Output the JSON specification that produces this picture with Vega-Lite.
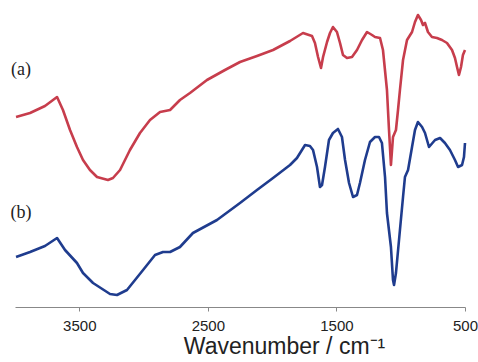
{
  "$schema": "https://vega.github.io/schema/vega-lite/v6.json",
  "autosize": {"type": "none"},
  "padding": {"left": 15, "top": 0, "right": 13, "bottom": 55},
  "width": 450,
  "height": 307,
  "background": "white",
  "config": {"view": {"stroke": null}},
  "datasets": {
    "spectra": [
      {"s":"a","wn":3992,"t":190},{"s":"a","wn":3883,"t":194},{"s":"a","wn":3767,"t":201},{"s":"a","wn":3673,"t":210},
      {"s":"a","wn":3627,"t":197},{"s":"a","wn":3572,"t":177},{"s":"a","wn":3518,"t":160},{"s":"a","wn":3471,"t":147},
      {"s":"a","wn":3417,"t":137},{"s":"a","wn":3362,"t":130},{"s":"a","wn":3277,"t":127},{"s":"a","wn":3238,"t":129},
      {"s":"a","wn":3183,"t":137},{"s":"a","wn":3106,"t":157},{"s":"a","wn":3028,"t":174},{"s":"a","wn":2950,"t":187},
      {"s":"a","wn":2872,"t":195},{"s":"a","wn":2794,"t":197},{"s":"a","wn":2717,"t":207},{"s":"a","wn":2639,"t":214},
      {"s":"a","wn":2507,"t":227},{"s":"a","wn":2367,"t":237},{"s":"a","wn":2250,"t":245},{"s":"a","wn":2118,"t":251},
      {"s":"a","wn":1993,"t":257},{"s":"a","wn":1861,"t":266},{"s":"a","wn":1760,"t":274},{"s":"a","wn":1690,"t":271},
      {"s":"a","wn":1667,"t":264},{"s":"a","wn":1643,"t":250},{"s":"a","wn":1620,"t":239},{"s":"a","wn":1604,"t":250},
      {"s":"a","wn":1573,"t":265},{"s":"a","wn":1550,"t":274},{"s":"a","wn":1527,"t":280},{"s":"a","wn":1496,"t":275},
      {"s":"a","wn":1472,"t":264},{"s":"a","wn":1449,"t":252},{"s":"a","wn":1418,"t":249},{"s":"a","wn":1379,"t":250},
      {"s":"a","wn":1340,"t":257},{"s":"a","wn":1301,"t":267},{"s":"a","wn":1262,"t":275},{"s":"a","wn":1223,"t":272},
      {"s":"a","wn":1200,"t":270},{"s":"a","wn":1161,"t":269},{"s":"a","wn":1138,"t":257},{"s":"a","wn":1107,"t":217},
      {"s":"a","wn":1091,"t":177},{"s":"a","wn":1076,"t":142},{"s":"a","wn":1060,"t":170},{"s":"a","wn":1037,"t":177},
      {"s":"a","wn":1021,"t":197},{"s":"a","wn":1006,"t":217},{"s":"a","wn":982,"t":247},{"s":"a","wn":951,"t":267},
      {"s":"a","wn":912,"t":275},{"s":"a","wn":889,"t":285},{"s":"a","wn":866,"t":292},{"s":"a","wn":842,"t":287},
      {"s":"a","wn":827,"t":282},{"s":"a","wn":811,"t":284},{"s":"a","wn":788,"t":275},{"s":"a","wn":757,"t":270},
      {"s":"a","wn":718,"t":269},{"s":"a","wn":679,"t":267},{"s":"a","wn":640,"t":264},{"s":"a","wn":601,"t":257},
      {"s":"a","wn":578,"t":249},{"s":"a","wn":562,"t":240},{"s":"a","wn":547,"t":232},{"s":"a","wn":531,"t":240},
      {"s":"a","wn":516,"t":252},{"s":"a","wn":500,"t":257},
      {"s":"b","wn":3992,"t":50},{"s":"b","wn":3883,"t":55},{"s":"b","wn":3767,"t":61},{"s":"b","wn":3673,"t":69},
      {"s":"b","wn":3611,"t":57},{"s":"b","wn":3518,"t":44},{"s":"b","wn":3471,"t":34},{"s":"b","wn":3393,"t":24},
      {"s":"b","wn":3261,"t":13},{"s":"b","wn":3207,"t":12},{"s":"b","wn":3129,"t":17},{"s":"b","wn":3004,"t":37},
      {"s":"b","wn":2911,"t":52},{"s":"b","wn":2849,"t":55},{"s":"b","wn":2794,"t":55},{"s":"b","wn":2717,"t":60},
      {"s":"b","wn":2616,"t":74},{"s":"b","wn":2429,"t":87},{"s":"b","wn":2250,"t":104},{"s":"b","wn":2118,"t":117},
      {"s":"b","wn":1993,"t":129},{"s":"b","wn":1861,"t":142},{"s":"b","wn":1807,"t":149},{"s":"b","wn":1744,"t":162},
      {"s":"b","wn":1706,"t":161},{"s":"b","wn":1682,"t":157},{"s":"b","wn":1651,"t":140},{"s":"b","wn":1628,"t":120},
      {"s":"b","wn":1612,"t":122},{"s":"b","wn":1589,"t":140},{"s":"b","wn":1558,"t":167},{"s":"b","wn":1527,"t":174},
      {"s":"b","wn":1488,"t":178},{"s":"b","wn":1457,"t":170},{"s":"b","wn":1433,"t":147},{"s":"b","wn":1402,"t":124},
      {"s":"b","wn":1371,"t":110},{"s":"b","wn":1340,"t":112},{"s":"b","wn":1317,"t":124},{"s":"b","wn":1278,"t":147},
      {"s":"b","wn":1239,"t":165},{"s":"b","wn":1200,"t":170},{"s":"b","wn":1169,"t":170},{"s":"b","wn":1146,"t":164},
      {"s":"b","wn":1122,"t":130},{"s":"b","wn":1107,"t":94},{"s":"b","wn":1076,"t":60},{"s":"b","wn":1060,"t":27},
      {"s":"b","wn":1052,"t":22},{"s":"b","wn":1037,"t":34},{"s":"b","wn":1006,"t":77},{"s":"b","wn":982,"t":110},
      {"s":"b","wn":967,"t":130},{"s":"b","wn":943,"t":137},{"s":"b","wn":912,"t":160},{"s":"b","wn":889,"t":177},
      {"s":"b","wn":866,"t":185},{"s":"b","wn":834,"t":180},{"s":"b","wn":811,"t":174},{"s":"b","wn":780,"t":160},
      {"s":"b","wn":733,"t":167},{"s":"b","wn":694,"t":169},{"s":"b","wn":656,"t":164},{"s":"b","wn":617,"t":157},
      {"s":"b","wn":578,"t":147},{"s":"b","wn":554,"t":140},{"s":"b","wn":523,"t":142},{"s":"b","wn":508,"t":150},
      {"s":"b","wn":500,"t":164}
    ],
    "labels": [
      {"label":"(a)","wn":3953,"t":237},
      {"label":"(b)","wn":3953,"t":94}
    ]
  },
  "layer": [
    {
      "data": {"name": "spectra"},
      "mark": {"type": "line", "strokeWidth": 2.6, "interpolate": "linear", "strokeJoin": "round"},
      "encoding": {
        "x": {
          "field": "wn", "type": "quantitative",
          "scale": {"domain": [4000, 500], "nice": false, "zero": false},
          "axis": {
            "values": [3500, 2500, 1500, 500],
            "format": "d",
            "title": "Wavenumber / cm⁻¹",
            "titleFont": "Liberation Sans", "titleFontSize": 23, "titleFontWeight": "normal", "titleColor": "#222",
            "titlePadding": 2, "titleX": 269, "titleAnchor": "middle",
            "labelFont": "Liberation Sans", "labelFontSize": 15, "labelColor": "#222",
            "labelPadding": 7, "tickSize": 4, "tickColor": "#888", "domainColor": "#888", "domainWidth": 1.2,
            "grid": false, "labelFlush": false
          }
        },
        "y": {
          "field": "t", "type": "quantitative",
          "scale": {"domain": [0, 307], "nice": false, "zero": false},
          "axis": null
        },
        "color": {
          "field": "s", "type": "nominal",
          "scale": {"domain": ["a", "b"], "range": ["#c73d4c", "#1f3c8e"]},
          "legend": null
        }
      }
    },
    {
      "data": {"name": "labels"},
      "mark": {"type": "text", "font": "Liberation Serif", "fontSize": 18, "color": "#222", "align": "center", "baseline": "middle"},
      "encoding": {
        "x": {"field": "wn", "type": "quantitative"},
        "y": {"field": "t", "type": "quantitative"},
        "text": {"field": "label", "type": "nominal"}
      }
    }
  ]
}
